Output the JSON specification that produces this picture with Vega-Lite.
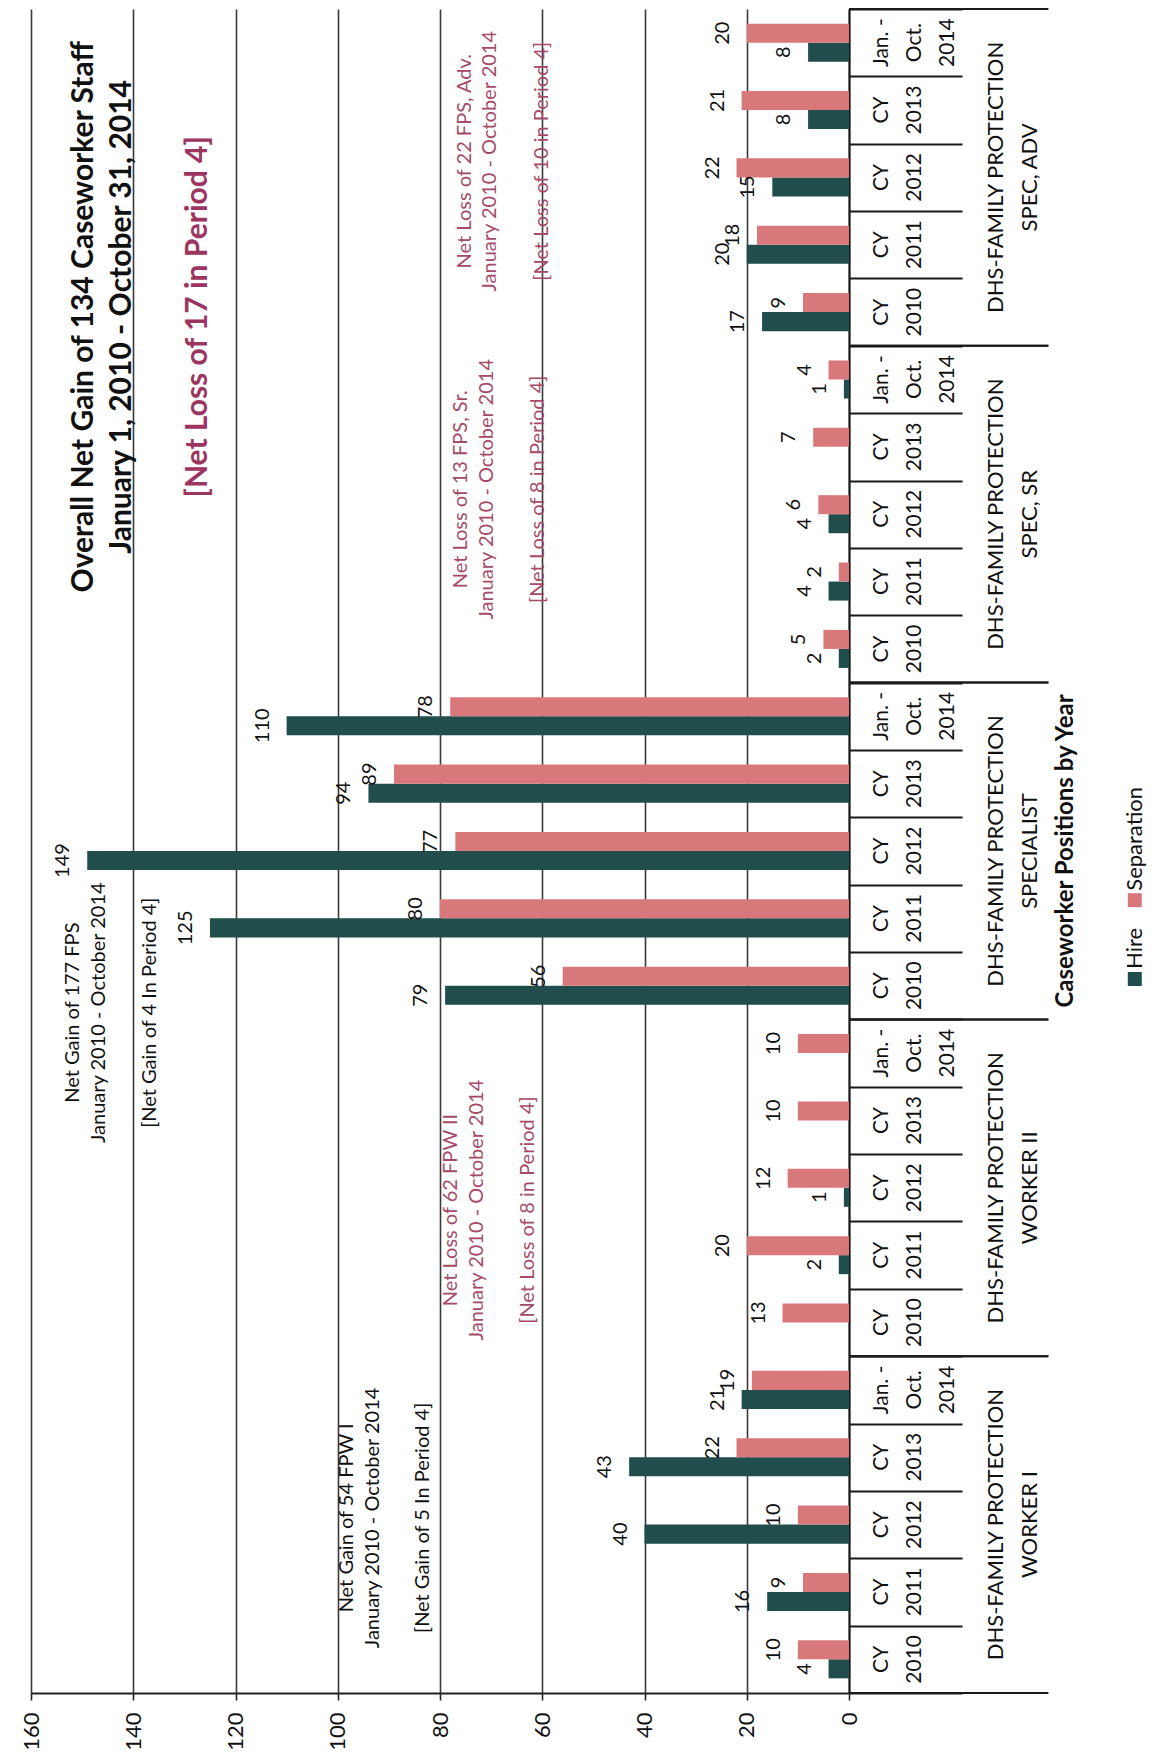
{
  "$schema": "https://vega.github.io/schema/vega-lite/v6.json",
  "width": 818,
  "height": 1684,
  "autosize": {"type": "none"},
  "padding": {"left": 31, "top": 9, "right": 310, "bottom": 68},
  "background": "white",
  "config": {"font": "Lato", "view": {"stroke": null}, "text": {"font": "Lato"}},
  "datasets": {
    "bars": [
      {"slot": "A-2014", "series": "Hire", "value": 8}, {"slot": "A-2014", "series": "Separation", "value": 20},
      {"slot": "A-2013", "series": "Hire", "value": 8}, {"slot": "A-2013", "series": "Separation", "value": 21},
      {"slot": "A-2012", "series": "Hire", "value": 15}, {"slot": "A-2012", "series": "Separation", "value": 22},
      {"slot": "A-2011", "series": "Hire", "value": 20}, {"slot": "A-2011", "series": "Separation", "value": 18},
      {"slot": "A-2010", "series": "Hire", "value": 17}, {"slot": "A-2010", "series": "Separation", "value": 9},
      {"slot": "R-2014", "series": "Hire", "value": 1}, {"slot": "R-2014", "series": "Separation", "value": 4},
      {"slot": "R-2013", "series": "Hire", "value": 0}, {"slot": "R-2013", "series": "Separation", "value": 7},
      {"slot": "R-2012", "series": "Hire", "value": 4}, {"slot": "R-2012", "series": "Separation", "value": 6},
      {"slot": "R-2011", "series": "Hire", "value": 4}, {"slot": "R-2011", "series": "Separation", "value": 2},
      {"slot": "R-2010", "series": "Hire", "value": 2}, {"slot": "R-2010", "series": "Separation", "value": 5},
      {"slot": "S-2014", "series": "Hire", "value": 110}, {"slot": "S-2014", "series": "Separation", "value": 78},
      {"slot": "S-2013", "series": "Hire", "value": 94}, {"slot": "S-2013", "series": "Separation", "value": 89},
      {"slot": "S-2012", "series": "Hire", "value": 149}, {"slot": "S-2012", "series": "Separation", "value": 77},
      {"slot": "S-2011", "series": "Hire", "value": 125}, {"slot": "S-2011", "series": "Separation", "value": 80},
      {"slot": "S-2010", "series": "Hire", "value": 79}, {"slot": "S-2010", "series": "Separation", "value": 56},
      {"slot": "II-2014", "series": "Hire", "value": 0}, {"slot": "II-2014", "series": "Separation", "value": 10},
      {"slot": "II-2013", "series": "Hire", "value": 0}, {"slot": "II-2013", "series": "Separation", "value": 10},
      {"slot": "II-2012", "series": "Hire", "value": 1}, {"slot": "II-2012", "series": "Separation", "value": 12},
      {"slot": "II-2011", "series": "Hire", "value": 2}, {"slot": "II-2011", "series": "Separation", "value": 20},
      {"slot": "II-2010", "series": "Hire", "value": 0}, {"slot": "II-2010", "series": "Separation", "value": 13},
      {"slot": "I-2014", "series": "Hire", "value": 21}, {"slot": "I-2014", "series": "Separation", "value": 19},
      {"slot": "I-2013", "series": "Hire", "value": 43}, {"slot": "I-2013", "series": "Separation", "value": 22},
      {"slot": "I-2012", "series": "Hire", "value": 40}, {"slot": "I-2012", "series": "Separation", "value": 10},
      {"slot": "I-2011", "series": "Hire", "value": 16}, {"slot": "I-2011", "series": "Separation", "value": 9},
      {"slot": "I-2010", "series": "Hire", "value": 4}, {"slot": "I-2010", "series": "Separation", "value": 10}
    ],
    "slots": [
      {"slot": "A-2014", "label": "Jan. -|Oct.|2014"}, {"slot": "A-2013", "label": "CY|2013"}, {"slot": "A-2012", "label": "CY|2012"}, {"slot": "A-2011", "label": "CY|2011"}, {"slot": "A-2010", "label": "CY|2010"},
      {"slot": "R-2014", "label": "Jan. -|Oct.|2014"}, {"slot": "R-2013", "label": "CY|2013"}, {"slot": "R-2012", "label": "CY|2012"}, {"slot": "R-2011", "label": "CY|2011"}, {"slot": "R-2010", "label": "CY|2010"},
      {"slot": "S-2014", "label": "Jan. -|Oct.|2014"}, {"slot": "S-2013", "label": "CY|2013"}, {"slot": "S-2012", "label": "CY|2012"}, {"slot": "S-2011", "label": "CY|2011"}, {"slot": "S-2010", "label": "CY|2010"},
      {"slot": "II-2014", "label": "Jan. -|Oct.|2014"}, {"slot": "II-2013", "label": "CY|2013"}, {"slot": "II-2012", "label": "CY|2012"}, {"slot": "II-2011", "label": "CY|2011"}, {"slot": "II-2010", "label": "CY|2010"},
      {"slot": "I-2014", "label": "Jan. -|Oct.|2014"}, {"slot": "I-2013", "label": "CY|2013"}, {"slot": "I-2012", "label": "CY|2012"}, {"slot": "I-2011", "label": "CY|2011"}, {"slot": "I-2010", "label": "CY|2010"}
    ],
    "groups": [
      {"label": "DHS-FAMILY PROTECTION|SPEC, ADV", "mid": "A-2012", "top": "A-2014", "last": "A-2010"},
      {"label": "DHS-FAMILY PROTECTION|SPEC, SR", "mid": "R-2012", "top": "R-2014", "last": "R-2010"},
      {"label": "DHS-FAMILY PROTECTION|SPECIALIST", "mid": "S-2012", "top": "S-2014", "last": "S-2010"},
      {"label": "DHS-FAMILY PROTECTION|WORKER II", "mid": "II-2012", "top": "II-2014", "last": "II-2010"},
      {"label": "DHS-FAMILY PROTECTION|WORKER I", "mid": "I-2012", "top": "I-2014", "last": "I-2010"}
    ]
  },
  "layer": [
    {
      "layer": [
        {
          "data": {"name": "bars"},
          "mark": {"type": "bar"},
          "encoding": {
            "y": {"field": "slot", "type": "nominal", "title": null,
              "scale": {"domain": ["A-2014","A-2013","A-2012","A-2011","A-2010","R-2014","R-2013","R-2012","R-2011","R-2010","S-2014","S-2013","S-2012","S-2011","S-2010","II-2014","II-2013","II-2012","II-2011","II-2010","I-2014","I-2013","I-2012","I-2011","I-2010"], "paddingInner": 0, "paddingOuter": 0},
              "axis": {"orient": "right", "tickBand": "extent", "tickSize": 113, "tickWidth": 2, "tickColor": "#1a1a1a", "labels": false, "domain": true, "domainWidth": 2, "domainColor": "#1a1a1a", "grid": false, "title": null}},
            "yOffset": {"field": "series", "type": "nominal", "scale": {"domain": ["Separation", "Hire"], "paddingInner": 0, "paddingOuter": 0.77}},
            "x": {"field": "value", "type": "quantitative", "title": null,
              "scale": {"domain": [0, 160], "reverse": true, "nice": false, "zero": false},
              "axis": {"orient": "bottom", "values": [0, 20, 40, 60, 80, 100, 120, 140, 160], "grid": true, "gridColor": "#3a3a3a", "gridWidth": 1.6, "domainColor": "#222222", "domainWidth": 2, "tickColor": "#222222", "tickWidth": 1.6, "tickSize": 7, "labelAngle": 270, "labelPadding": 12, "labelFontSize": 22, "labelColor": "#111111", "labelFlush": false, "labelOverlap": false, "title": null}},
            "color": {"field": "series", "type": "nominal", "scale": {"domain": ["Hire", "Separation"], "range": ["#214d4d", "#d9787b"]}, "legend": null}
          }
        },
        {
          "data": {"name": "bars"},
          "transform": [{"filter": "datum.value > 0"}],
          "mark": {"type": "text", "angle": 270, "align": "center", "baseline": "bottom", "dy": -14, "fontSize": 20, "color": "#111111"},
          "encoding": {
            "y": {"field": "slot", "type": "nominal", "title": null},
            "yOffset": {"field": "series", "type": "nominal", "scale": {"domain": ["Separation", "Hire"], "paddingInner": 0, "paddingOuter": 0.77}},
            "x": {"field": "value", "type": "quantitative", "title": null, "scale": {"domain": [0, 160], "reverse": true, "nice": false, "zero": false}},
            "text": {"field": "value", "type": "quantitative"}
          }
        },
        {
          "data": {"name": "slots"},
          "mark": {"type": "text", "angle": 270, "align": "center", "baseline": "top", "dy": 22, "fontSize": 21, "lineBreak": "|", "lineHeight": 33, "color": "#111111"},
          "encoding": {
            "y": {"field": "slot", "type": "nominal", "title": null},
            "x": {"datum": 0, "type": "quantitative", "scale": {"domain": [0, 160], "reverse": true, "nice": false, "zero": false}},
            "text": {"field": "label"}
          }
        },
        {
          "data": {"name": "groups"},
          "mark": {"type": "text", "angle": 270, "align": "center", "baseline": "top", "dy": 137, "fontSize": 22, "lineBreak": "|", "lineHeight": 34, "color": "#111111"},
          "encoding": {
            "y": {"field": "mid", "type": "nominal", "title": null},
            "x": {"datum": 0, "type": "quantitative", "scale": {"domain": [0, 160], "reverse": true, "nice": false, "zero": false}},
            "text": {"field": "label"}
          }
        },
        {
          "data": {"name": "groups"},
          "mark": {"type": "rule", "strokeWidth": 2, "color": "#1a1a1a"},
          "encoding": {
            "y": {"field": "top", "type": "nominal", "title": null, "bandPosition": 0},
            "x": {"datum": 0, "type": "quantitative", "scale": {"domain": [0, 160], "reverse": true, "nice": false, "zero": false}},
            "x2": {"datum": -39}
          }
        },
        {
          "data": {"name": "groups"},
          "mark": {"type": "rule", "strokeWidth": 2, "color": "#1a1a1a"},
          "encoding": {
            "y": {"field": "last", "type": "nominal", "title": null, "bandPosition": 1},
            "x": {"datum": 0, "type": "quantitative", "scale": {"domain": [0, 160], "reverse": true, "nice": false, "zero": false}},
            "x2": {"datum": -39}
          }
        }
      ]
    },
    {
      "layer": [
        {
          "data": {"values": [{}]},
          "mark": {"type": "text", "angle": 270, "align": "center", "baseline": "top", "fontSize": 30, "fontWeight": "bold", "lineBreak": "\n", "lineHeight": 38, "color": "#111111", "text": "Overall Net Gain of 134 Caseworker Staff\nJanuary 1, 2010 - October 31, 2014"},
          "encoding": {
            "x": {"datum": 152.6, "type": "quantitative", "scale": {"domain": [0, 160], "reverse": true, "nice": false, "zero": false}},
            "y": {"datum": 4.57, "type": "quantitative", "scale": {"domain": [0, 25], "reverse": true, "nice": false, "zero": false}, "axis": null}
          }
        },
        {
          "data": {"values": [{}]},
          "mark": {"type": "text", "angle": 270, "align": "center", "baseline": "top", "fontSize": 30, "fontWeight": "bold", "color": "#9c3560", "text": "[Net Loss of 17 in Period 4]"},
          "encoding": {
            "x": {"datum": 130.3, "type": "quantitative", "scale": {"domain": [0, 160], "reverse": true, "nice": false, "zero": false}},
            "y": {"datum": 4.57, "type": "quantitative", "scale": {"domain": [0, 25], "reverse": true, "nice": false, "zero": false}, "axis": null}
          }
        },
        {
          "data": {"values": [{}]},
          "mark": {"type": "text", "angle": 270, "align": "center", "baseline": "top", "fontSize": 20, "lineBreak": "\n", "lineHeight": 25.5, "color": "#111111", "text": "Net Gain of 54 FPW I\nJanuary 2010 - October 2014"},
          "encoding": {
            "x": {"datum": 100.1, "type": "quantitative", "scale": {"domain": [0, 160], "reverse": true, "nice": false, "zero": false}},
            "y": {"datum": 22.4, "type": "quantitative", "scale": {"domain": [0, 25], "reverse": true, "nice": false, "zero": false}, "axis": null}
          }
        },
        {
          "data": {"values": [{}]},
          "mark": {"type": "text", "angle": 270, "align": "center", "baseline": "top", "dy": 76, "fontSize": 20, "color": "#111111", "text": "[Net Gain of 5 In Period 4]"},
          "encoding": {
            "x": {"datum": 100.1, "type": "quantitative", "scale": {"domain": [0, 160], "reverse": true, "nice": false, "zero": false}},
            "y": {"datum": 22.4, "type": "quantitative", "scale": {"domain": [0, 25], "reverse": true, "nice": false, "zero": false}, "axis": null}
          }
        },
        {
          "data": {"values": [{}]},
          "mark": {"type": "text", "angle": 270, "align": "center", "baseline": "top", "fontSize": 20, "lineBreak": "\n", "lineHeight": 25.5, "color": "#a64a68", "text": "Net Loss of 62 FPW II\nJanuary 2010 - October 2014"},
          "encoding": {
            "x": {"datum": 79.8, "type": "quantitative", "scale": {"domain": [0, 160], "reverse": true, "nice": false, "zero": false}},
            "y": {"datum": 17.83, "type": "quantitative", "scale": {"domain": [0, 25], "reverse": true, "nice": false, "zero": false}, "axis": null}
          }
        },
        {
          "data": {"values": [{}]},
          "mark": {"type": "text", "angle": 270, "align": "center", "baseline": "top", "dy": 77, "fontSize": 20, "color": "#a64a68", "text": "[Net Loss of 8 in Period 4]"},
          "encoding": {
            "x": {"datum": 79.8, "type": "quantitative", "scale": {"domain": [0, 160], "reverse": true, "nice": false, "zero": false}},
            "y": {"datum": 17.83, "type": "quantitative", "scale": {"domain": [0, 25], "reverse": true, "nice": false, "zero": false}, "axis": null}
          }
        },
        {
          "data": {"values": [{}]},
          "mark": {"type": "text", "angle": 270, "align": "center", "baseline": "top", "fontSize": 20, "lineBreak": "\n", "lineHeight": 25.5, "color": "#111111", "text": "Net Gain of 177 FPS\nJanuary 2010 - October 2014"},
          "encoding": {
            "x": {"datum": 153.7, "type": "quantitative", "scale": {"domain": [0, 160], "reverse": true, "nice": false, "zero": false}},
            "y": {"datum": 14.9, "type": "quantitative", "scale": {"domain": [0, 25], "reverse": true, "nice": false, "zero": false}, "axis": null}
          }
        },
        {
          "data": {"values": [{}]},
          "mark": {"type": "text", "angle": 270, "align": "center", "baseline": "top", "dy": 77, "fontSize": 20, "color": "#111111", "text": "[Net Gain of 4 In Period 4]"},
          "encoding": {
            "x": {"datum": 153.7, "type": "quantitative", "scale": {"domain": [0, 160], "reverse": true, "nice": false, "zero": false}},
            "y": {"datum": 14.9, "type": "quantitative", "scale": {"domain": [0, 25], "reverse": true, "nice": false, "zero": false}, "axis": null}
          }
        },
        {
          "data": {"values": [{}]},
          "mark": {"type": "text", "angle": 270, "align": "center", "baseline": "top", "fontSize": 20, "lineBreak": "\n", "lineHeight": 25.5, "color": "#a64a68", "text": "Net Loss of 13 FPS, Sr.\nJanuary 2010 - October 2014"},
          "encoding": {
            "x": {"datum": 77.8, "type": "quantitative", "scale": {"domain": [0, 160], "reverse": true, "nice": false, "zero": false}},
            "y": {"datum": 7.13, "type": "quantitative", "scale": {"domain": [0, 25], "reverse": true, "nice": false, "zero": false}, "axis": null}
          }
        },
        {
          "data": {"values": [{}]},
          "mark": {"type": "text", "angle": 270, "align": "center", "baseline": "top", "dy": 77, "fontSize": 20, "color": "#a64a68", "text": "[Net Loss of 8 in Period 4]"},
          "encoding": {
            "x": {"datum": 77.8, "type": "quantitative", "scale": {"domain": [0, 160], "reverse": true, "nice": false, "zero": false}},
            "y": {"datum": 7.13, "type": "quantitative", "scale": {"domain": [0, 25], "reverse": true, "nice": false, "zero": false}, "axis": null}
          }
        },
        {
          "data": {"values": [{}]},
          "mark": {"type": "text", "angle": 270, "align": "center", "baseline": "top", "fontSize": 20, "lineBreak": "\n", "lineHeight": 25.5, "color": "#a64a68", "text": "Net Loss of 22 FPS, Adv.\nJanuary 2010 - October 2014"},
          "encoding": {
            "x": {"datum": 77.1, "type": "quantitative", "scale": {"domain": [0, 160], "reverse": true, "nice": false, "zero": false}},
            "y": {"datum": 2.26, "type": "quantitative", "scale": {"domain": [0, 25], "reverse": true, "nice": false, "zero": false}, "axis": null}
          }
        },
        {
          "data": {"values": [{}]},
          "mark": {"type": "text", "angle": 270, "align": "center", "baseline": "top", "dy": 77, "fontSize": 20, "color": "#a64a68", "text": "[Net Loss of 10 in Period 4]"},
          "encoding": {
            "x": {"datum": 77.1, "type": "quantitative", "scale": {"domain": [0, 160], "reverse": true, "nice": false, "zero": false}},
            "y": {"datum": 2.26, "type": "quantitative", "scale": {"domain": [0, 25], "reverse": true, "nice": false, "zero": false}, "axis": null}
          }
        },
        {
          "data": {"values": [{}]},
          "mark": {"type": "text", "angle": 270, "align": "center", "baseline": "middle", "fontSize": 24, "fontWeight": "bold", "color": "#111111", "text": "Caseworker Positions by Year"},
          "encoding": {
            "x": {"datum": -42.4, "type": "quantitative", "scale": {"domain": [0, 160], "reverse": true, "nice": false, "zero": false}},
            "y": {"datum": 12.5, "type": "quantitative", "scale": {"domain": [0, 25], "reverse": true, "nice": false, "zero": false}, "axis": null}
          }
        },
        {
          "data": {"values": [{}]},
          "mark": {"type": "square", "size": 196, "opacity": 1, "filled": true},
          "encoding": {
            "x": {"datum": -55.9, "type": "quantitative", "scale": {"domain": [0, 160], "reverse": true, "nice": false, "zero": false}},
            "y": {"datum": 14.4, "type": "quantitative", "scale": {"domain": [0, 25], "reverse": true, "nice": false, "zero": false}, "axis": null},
            "color": {"datum": "Hire", "type": "nominal", "legend": null}
          }
        },
        {
          "data": {"values": [{}]},
          "mark": {"type": "square", "size": 196, "opacity": 1, "filled": true},
          "encoding": {
            "x": {"datum": -55.9, "type": "quantitative", "scale": {"domain": [0, 160], "reverse": true, "nice": false, "zero": false}},
            "y": {"datum": 13.23, "type": "quantitative", "scale": {"domain": [0, 25], "reverse": true, "nice": false, "zero": false}, "axis": null},
            "color": {"datum": "Separation", "type": "nominal", "legend": null}
          }
        },
        {
          "data": {"values": [{}]},
          "mark": {"type": "text", "angle": 270, "align": "left", "baseline": "middle", "fontSize": 22, "color": "#111111", "text": "Hire"},
          "encoding": {
            "x": {"datum": -55.9, "type": "quantitative", "scale": {"domain": [0, 160], "reverse": true, "nice": false, "zero": false}},
            "y": {"datum": 14.25, "type": "quantitative", "scale": {"domain": [0, 25], "reverse": true, "nice": false, "zero": false}, "axis": null}
          }
        },
        {
          "data": {"values": [{}]},
          "mark": {"type": "text", "angle": 270, "align": "left", "baseline": "middle", "fontSize": 22, "color": "#111111", "text": "Separation"},
          "encoding": {
            "x": {"datum": -55.9, "type": "quantitative", "scale": {"domain": [0, 160], "reverse": true, "nice": false, "zero": false}},
            "y": {"datum": 13.09, "type": "quantitative", "scale": {"domain": [0, 25], "reverse": true, "nice": false, "zero": false}, "axis": null}
          }
        }
      ]
    }
  ],
  "resolve": {"scale": {"y": "independent"}}
}
